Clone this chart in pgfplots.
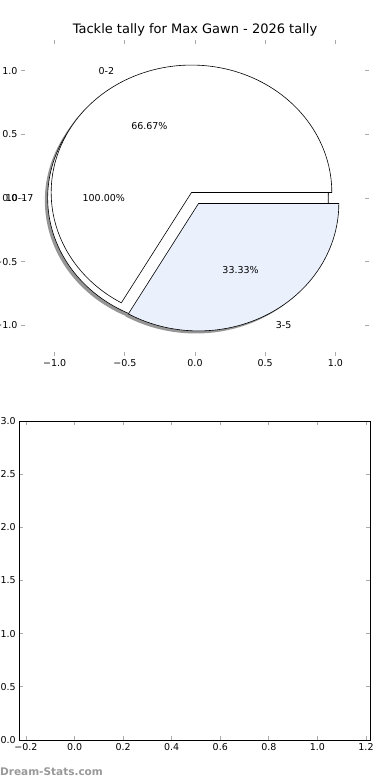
\documentclass[border=0pt]{standalone}
\usepackage{fontspec}
\setmainfont{DejaVu Sans}
\usepackage{pgfplots}
\pgfplotsset{compat=1.18}
\definecolor{wedgeblue}{RGB}{234,240,252}
\definecolor{tickgray}{RGB}{170,170,170}
\definecolor{shadowgray}{RGB}{150,150,150}
\begin{document}
\begin{tikzpicture}
% pie values (counts)
\def\valA{2}% 0-2
\def\valB{1}% 3-5
\def\valC{1}% 10-17
\pgfmathsetmacro{\angA}{360*\valA/(\valA+\valB)}
\pgfmathsetmacro{\expl}{0.05}
\pgfmathsetmacro{\midA}{\angA/2}
\pgfmathsetmacro{\midB}{(\angA+360)/2}
\pgfmathsetmacro{\cAx}{\expl*cos(\midA)}
\pgfmathsetmacro{\cAy}{\expl*sin(\midA)}
\pgfmathsetmacro{\cBx}{\expl*cos(\midB)}
\pgfmathsetmacro{\cBy}{\expl*sin(\midB)}
\pgfmathsetmacro{\cCx}{-\expl}
\pgfmathsetmacro{\cCy}{0}
\pgfmathsetmacro{\sAx}{\cAx-0.02}\pgfmathsetmacro{\sAy}{\cAy-0.02}
\pgfmathsetmacro{\sBx}{\cBx-0.02}\pgfmathsetmacro{\sBy}{\cBy-0.02}
\pgfmathsetmacro{\sCx}{\cCx-0.02}\pgfmathsetmacro{\sCy}{\cCy-0.02}
\node[font=\fontsize{13}{15}\selectfont] at (195pt,750pt) {Tackle tally for Max Gawn - 2026 tally};
\begin{axis}[
  at={(21pt,424pt)}, anchor=south west, scale only axis,
  width=348pt, height=316pt,
  xmin=-1.24, xmax=1.24, ymin=-1.24, ymax=1.24,
  axis line style={draw=none},
  tick align=inside, major tick length=4pt,
  tick style={tickgray, line width=0.8pt},
  xtick={-1,-0.5,0,0.5,1},
  xticklabels={−1.0,−0.5,0.0,0.5,1.0},
  ytick={-1,-0.5,0,0.5,1},
  yticklabels={−1.0,−0.5,0.0,0.5,1.0},
  ticklabel style={font=\fontsize{9.5}{11}\selectfont},
  clip=false,
]
% shadows
\addplot[draw=none, fill=shadowgray, domain=0:360, samples=181, variable=\t] ({\sCx+cos(t)},{\sCy+sin(t)}) -- cycle;
\addplot[draw=none, fill=shadowgray, domain=0:\angA, samples=121, variable=\t] ({\sAx+cos(t)},{\sAy+sin(t)}) -- (axis cs:\sAx,\sAy) -- cycle;
\addplot[draw=none, fill=shadowgray, domain=\angA:360, samples=61, variable=\t] ({\sBx+cos(t)},{\sBy+sin(t)}) -- (axis cs:\sBx,\sBy) -- cycle;
% 10-17 (100%)
\addplot[draw=black, line width=0.6pt, fill=white, domain=0:360, samples=181, variable=\t] ({\cCx+cos(t)},{\cCy+sin(t)}) -- cycle;
% 0-2
\addplot[draw=black, line width=0.6pt, fill=white, domain=0:\angA, samples=121, variable=\t] ({\cAx+cos(t)},{\cAy+sin(t)}) -- (axis cs:\cAx,\cAy) -- cycle;
% 3-5
\addplot[draw=black, line width=0.6pt, fill=wedgeblue, domain=\angA:360, samples=61, variable=\t] ({\cBx+cos(t)},{\cBy+sin(t)}) -- (axis cs:\cBx,\cBy) -- cycle;
\begin{scope}[font=\fontsize{9.5}{11}\selectfont]
\node[anchor=east, inner sep=0pt] at (axis cs:{\cAx+1.1*cos(\midA)},{\cAy+1.1*sin(\midA)}) {0-2};
\node[inner sep=0pt] at (axis cs:{\cAx+0.6*cos(\midA)},{\cAy+0.6*sin(\midA)}) {66.67\%};
\node[anchor=west, inner sep=0pt] at (axis cs:{\cBx+1.1*cos(\midB)},{\cBy+1.1*sin(\midB)}) {3-5};
\node[inner sep=0pt] at (axis cs:{\cBx+0.6*cos(\midB)},{\cBy+0.6*sin(\midB)}) {33.33\%};
\node[anchor=east, inner sep=0pt] at (axis cs:{\cCx-1.1},0) {10-17};
\node[inner sep=0pt] at (axis cs:{\cCx-0.6},0) {100.00\%};
\end{scope}
\end{axis}
\begin{axis}[
  at={(19.3pt,40pt)}, anchor=south west, scale only axis,
  width=350.7pt, height=319pt,
  xmin=-0.2276, xmax=1.2165, ymin=0, ymax=3,
  axis line style={black, line width=0.8pt},
  tick align=inside, major tick length=4pt,
  tick style={tickgray, line width=0.8pt},
  xtick={-0.2,0,0.2,0.4,0.6,0.8,1.0,1.2},
  xticklabels={−0.2,0.0,0.2,0.4,0.6,0.8,1.0,1.2},
  ytick={0,0.5,1,1.5,2,2.5,3},
  yticklabels={0.0,0.5,1.0,1.5,2.0,2.5,3.0},
  ticklabel style={font=\fontsize{9.5}{11}\selectfont},
]
\end{axis}
\node[anchor=south west, inner sep=0pt, text=black!40, font=\fontsize{10.5}{12}\selectfont\bfseries] at (0pt,4pt) {Dream-Stats.com};
\pgfresetboundingbox
\useasboundingbox (0pt,0pt) rectangle (390pt,780pt);
\end{tikzpicture}
\end{document}
